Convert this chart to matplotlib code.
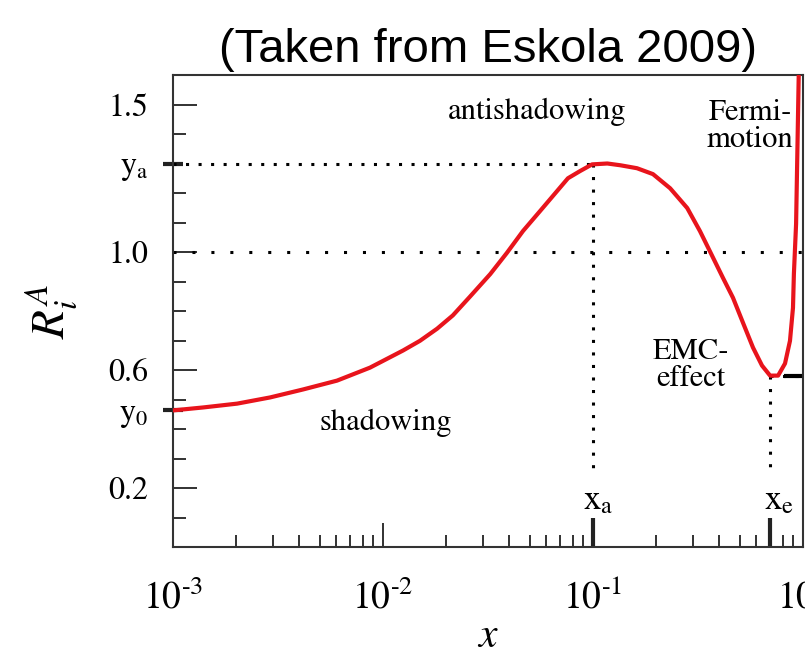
import numpy as np
import matplotlib
matplotlib.use('Agg')
import matplotlib.pyplot as plt
from matplotlib.ticker import FixedLocator, MultipleLocator, LogLocator, NullFormatter

# nuclear modification R_i^A vs x
x_vals = [0.001, 0.00139, 0.00202, 0.0029, 0.00416, 0.00604, 0.00867, 0.01245, 0.015,
          0.0181, 0.0215, 0.0259, 0.0324, 0.0389, 0.0464, 0.056, 0.076, 0.0866,
          0.099, 0.117, 0.135, 0.162, 0.193, 0.233, 0.281, 0.323, 0.36, 0.416,
          0.464, 0.518, 0.578, 0.638, 0.697, 0.761, 0.821, 0.867, 0.896, 0.905,
          0.927, 0.936, 0.957]
r_vals = [0.463, 0.473, 0.486, 0.507, 0.534, 0.564, 0.608, 0.666, 0.699,
          0.740, 0.785, 0.848, 0.925, 0.997, 1.071, 1.139, 1.25, 1.274,
          1.297, 1.300, 1.294, 1.284, 1.264, 1.216, 1.149, 1.071, 1.003, 0.912,
          0.845, 0.760, 0.676, 0.615, 0.581, 0.581, 0.622, 0.699, 0.811, 0.926,
          1.095, 1.264, 1.65]

# special points
y0 = 0.463
ya, xa = 1.3, 0.1
ye, xe = 0.58, 0.7

ytick_vals = [0.2, y0, 0.6, 1.0, ya, 1.5]
ytick_labels = ['0.2', 'y$_0$', '0.6', '1.0', 'y$_\\mathrm{a}$', '1.5']
xtick_vals = [1e-3, 1e-2, xa, xe, 1.0]
xtick_labels = ['$10^{\\text{-}3}$', '$10^{\\text{-}2}$', '$10^{\\text{-}1}$', '', '$10^{0}$']

plt.rcParams['font.family'] = 'STIXGeneral'
plt.rcParams['mathtext.fontset'] = 'stix'

fig = plt.figure(figsize=(8.05, 6.58), dpi=100)
ax = fig.add_axes([173/805, 1 - 547/658, 630/805, 472/658])

red = '#e8141c'
ax.plot(x_vals, r_vals, color=red, lw=3, solid_joinstyle='round', zorder=3)

# guide lines
ax.axhline(1.0, color='black', lw=2.2, ls=(0, (1, 5.2)))
ax.plot([1e-3, xa], [ya, ya], color='black', lw=2.2, ls=(0, (1, 3.1)))
ax.plot([xa, xa], [ya, 0.25], color='black', lw=2.2, ls=(0, (1, 3.1)))
ax.plot([xe, xe], [ye, 0.25], color='black', lw=2.2, ls=(0, (1, 3.1)))
ax.plot([xe, 1.0], [ye, ye], color='black', lw=2.2, ls=(0, (1, 3.1)))

ax.set_xscale('log')
ax.set_xlim(1e-3, 1.0)
ax.set_ylim(0, 1.6)

ax.xaxis.set_major_locator(FixedLocator(xtick_vals))
ax.set_xticklabels(xtick_labels)
ax.xaxis.set_minor_locator(LogLocator(base=10, subs=np.arange(2, 10)))
ax.xaxis.set_minor_formatter(NullFormatter())
ax.yaxis.set_major_locator(FixedLocator(ytick_vals))
ax.set_yticklabels(ytick_labels)
ax.yaxis.set_minor_locator(MultipleLocator(0.1))

ax.tick_params(axis='both', which='both', direction='in', top=False, right=False, color='#222222')
ax.tick_params(axis='x', which='major', length=17, width=1.3, labelsize=27, pad=24)
ax.tick_params(axis='y', which='major', length=17, width=1.3, labelsize=23, pad=18)
ax.tick_params(axis='both', which='minor', length=9, width=1.3)

# heavier ticks for the marked points
for t in ax.yaxis.get_major_ticks():
    if t.get_loc() in (ya, y0):
        t.tick1line.set_marker('_')
        t.tick1line.set_markersize(14)
        t.tick1line.set_markeredgewidth(3)
        t.tick1line.set_color('black')
for t in ax.xaxis.get_major_ticks():
    if t.get_loc() in (xa, xe):
        t.tick1line.set_markersize(21)
        t.tick1line.set_markeredgewidth(3)
        t.tick1line.set_color('black')

sec = ax.secondary_yaxis('right')
sec.set_yticks([ye])
sec.tick_params(direction='in', length=14, width=3, labelright=False, color='black')
sec.spines['right'].set_visible(False)

for s in ax.spines.values():
    s.set_linewidth(1.5)
    s.set_color('#333333')

ax.set_xlabel('$x$', fontsize=30, labelpad=1)
ax.set_ylabel('$R_i^A$', fontsize=34, labelpad=20)

ax.text(0.054, 1.476, 'antishadowing', fontsize=22, ha='center', va='center')
ax.text(0.0103, 0.42, 'shadowing', fontsize=22, ha='center', va='center')
ax.text(0.56, 1.426, 'Fermi-\nmotion', fontsize=22, ha='center', va='center', linespacing=0.95)
ax.text(0.293, 0.615, 'EMC-\neffect', fontsize=22, ha='center', va='center', linespacing=0.95)
ax.annotate('x$_\\mathrm{a}$', xy=(xa, 0.155), xytext=(4, 0), textcoords='offset points',
            fontsize=25, ha='center', va='center')
ax.annotate('x$_\\mathrm{e}$', xy=(xe, 0.155), xytext=(6, 0), textcoords='offset points',
            fontsize=25, ha='center', va='center')

ax.set_title('(Taken from Eskola 2009)', fontsize=34, family='Liberation Sans', pad=9)

fig.savefig('out.png', dpi=100)
